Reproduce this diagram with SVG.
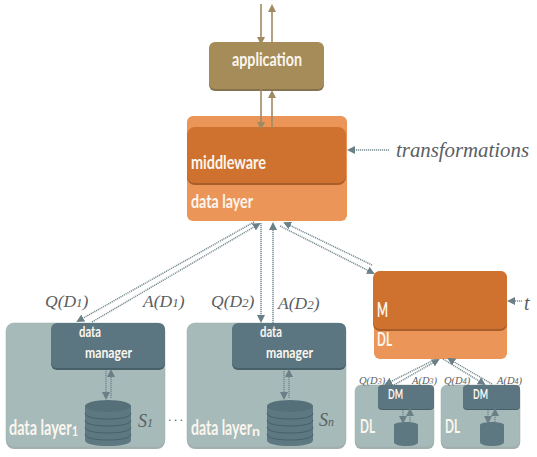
<svg xmlns="http://www.w3.org/2000/svg" width="537" height="457" viewBox="0 0 537 457">
<defs>
<marker id="ab" viewBox="0 0 8 8" refX="6" refY="4" markerWidth="8" markerHeight="8" markerUnits="userSpaceOnUse" orient="auto"><path d="M0 0L8 4L0 8Z" fill="#a08a62"/></marker>
<marker id="as" viewBox="0 0 8 8" refX="6" refY="4" markerWidth="8" markerHeight="8" markerUnits="userSpaceOnUse" orient="auto"><path d="M0 0L8 4L0 8Z" fill="#6b7f86"/></marker>
<g id="cyl"><path d="M0 6V40C0 44 10 46 23 46S46 44 46 40V6Z" fill="#5d7881"/><ellipse cx="23" cy="6" rx="23" ry="6" fill="#557079"/><path d="M0 13C0 17 10 19 23 19S46 17 46 13M0 20C0 24 10 26 23 26S46 24 46 20M0 27C0 31 10 33 23 33S46 31 46 27M0 34C0 38 10 40 23 40S46 38 46 34" fill="none" stroke="#3f5a63" stroke-width="0.8"/></g>
<path id="cyls" d="M0 3V20C0 22.500 5 24 12 24S24 22.500 24 20V3C24 1 18 0 12 0S0 1 0 3Z" fill="#5d7881"/>
</defs>
<style>
.l{font-family:"Lato","Open Sans",sans-serif;font-weight:700;fill:#fbf6ee}
.m{font-family:"Liberation Serif","DejaVu Serif",serif;font-style:italic;fill:#5a5e62}
.tan{stroke:#a08a62;stroke-width:1.6;fill:none}
.sl{stroke:#7a8d93;stroke-width:1.5;stroke-dasharray:1.2 0.8;fill:none}
.pan{fill:#a6bab9;stroke:#98acab;stroke-width:0.5}
.dm{fill:#5b7680}
.shadow{fill:#7d8e8e;opacity:.7}
</style>
<rect width="537" height="457" fill="#fff"/>
<g id="application"><rect x="209" y="44" width="115" height="47" rx="6" fill="#857350"/><rect x="209" y="42" width="115" height="47" rx="6" fill="#a68c58"/><text class="l" x="232" y="66" font-size="19" textLength="70" lengthAdjust="spacingAndGlyphs">application</text></g>
<g id="data-layer"><rect x="187" y="116" width="160" height="105" rx="6" fill="#ec9558"/><rect x="187" y="129" width="159" height="56" rx="8" fill="#a85d2a"/><rect x="187" y="127" width="159" height="56" rx="8" fill="#d0722f"/><text class="l" x="191" y="169" font-size="18" textLength="75" lengthAdjust="spacingAndGlyphs">middleware</text><text class="l" x="191" y="208" font-size="18" textLength="62" lengthAdjust="spacingAndGlyphs">data layer</text></g>
<g id="transformations"><text class="m" x="396" y="157" font-size="20" textLength="133" lengthAdjust="spacingAndGlyphs">transformations</text></g>
<g id="layer-1"><rect x="6" y="325" width="159" height="124" rx="8" class="shadow"/><rect x="6" y="323" width="159" height="124" rx="8" class="pan"/><rect x="51" y="325" width="114" height="45" rx="6" fill="#486169"/><rect x="51" y="323" width="114" height="45" rx="6" class="dm"/><text class="l" x="79" y="337" font-size="15" textLength="22" lengthAdjust="spacingAndGlyphs">data</text><text class="l" x="85" y="358" font-size="16" textLength="47" lengthAdjust="spacingAndGlyphs">manager</text><use href="#cyl" x="85" y="400"/><text class="l" transform="translate(9 435) scale(.72 1)" font-size="20">data layer</text><text class="l" x="72" y="436" font-size="13" textLength="6" lengthAdjust="spacingAndGlyphs">1</text><text class="m" x="138" y="427" font-size="18">S</text><text class="m" x="147" y="427" font-size="12">1</text></g>
<g id="ellipsis"><text x="168" y="421" font-family="Liberation Sans,sans-serif" font-size="13" fill="#55595b" textLength="15">...</text></g>
<g id="layer-n"><rect x="187" y="325" width="159" height="124" rx="8" class="shadow"/><rect x="187" y="323" width="159" height="124" rx="8" class="pan"/><rect x="232" y="325" width="114" height="45" rx="6" fill="#486169"/><rect x="232" y="323" width="114" height="45" rx="6" class="dm"/><text class="l" x="260" y="337" font-size="15" textLength="22" lengthAdjust="spacingAndGlyphs">data</text><text class="l" x="266" y="358" font-size="16" textLength="47" lengthAdjust="spacingAndGlyphs">manager</text><use href="#cyl" x="267" y="400"/><text class="l" transform="translate(191 435) scale(.70 1)" font-size="20">data layer</text><text class="l" x="252" y="436" font-size="13" textLength="8" lengthAdjust="spacingAndGlyphs">n</text><text class="m" x="319" y="426" font-size="18">S</text><text class="m" x="328" y="426" font-size="12">n</text></g>
<g id="middleware-small"><rect x="374" y="271" width="133" height="88" rx="6" fill="#ec9558"/><rect x="373" y="273" width="134" height="58" rx="7" fill="#a85d2a"/><rect x="373" y="271" width="134" height="58" rx="7" fill="#d0722f"/><text class="l" x="377" y="317" font-size="20" textLength="11" lengthAdjust="spacingAndGlyphs">M</text><text class="l" x="377" y="346" font-size="19" textLength="15" lengthAdjust="spacingAndGlyphs">DL</text></g>
<g id="t"><text class="m" x="524" y="310" font-size="20">t</text></g>
<g id="small-1"><rect x="355" y="387" width="79" height="62" rx="6" class="shadow"/><rect x="355" y="385" width="79" height="62" rx="6" class="pan"/><rect x="378" y="386" width="56" height="24" rx="4" fill="#486169"/><rect x="378" y="385" width="56" height="24" rx="4" class="dm"/><text class="l" x="388" y="399" font-size="14" textLength="15" lengthAdjust="spacingAndGlyphs">DM</text><text class="l" x="360" y="433" font-size="19" textLength="15" lengthAdjust="spacingAndGlyphs">DL</text><use href="#cyls" x="394" y="422"/></g>
<g id="small-2"><rect x="441" y="387" width="79" height="62" rx="6" class="shadow"/><rect x="441" y="385" width="79" height="62" rx="6" class="pan"/><rect x="463" y="386" width="57" height="24" rx="4" fill="#486169"/><rect x="463" y="385" width="57" height="24" rx="4" class="dm"/><text class="l" x="473" y="399" font-size="14" textLength="15" lengthAdjust="spacingAndGlyphs">DM</text><text class="l" x="445" y="433" font-size="19" textLength="15" lengthAdjust="spacingAndGlyphs">DL</text><use href="#cyls" x="480" y="422"/></g>
<g id="labels"><text class="m" x="45" y="307" font-size="17.500">Q(D<tspan font-size="13">1</tspan>)</text><text class="m" x="143" y="307" font-size="17.500">A(D<tspan font-size="13">1</tspan>)</text><text class="m" x="211" y="307" font-size="17.500">Q(D<tspan font-size="13">2</tspan>)</text><text class="m" x="278" y="309" font-size="17.500">A(D<tspan font-size="13">2</tspan>)</text><text class="m" x="359" y="384" font-size="10.500">Q(D<tspan font-size="8">3</tspan>)</text><text class="m" x="412" y="384" font-size="10.500">A(D<tspan font-size="8">3</tspan>)</text><text class="m" x="444" y="384" font-size="10.500">Q(D<tspan font-size="8">4</tspan>)</text><text class="m" x="497" y="384" font-size="10.500">A(D<tspan font-size="8">4</tspan>)</text></g>
<g id="connectors">
<path class="tan" d="M261 4V43" marker-end="url(#ab)"/><path class="tan" d="M272 42V6" marker-end="url(#ab)"/>
<path class="tan" d="M261 88V128" marker-end="url(#ab)"/><path class="tan" d="M272 128V92" marker-end="url(#ab)"/>
<path class="sl" d="M389 150H349" marker-end="url(#as)"/><path class="sl" d="M522 301H509" marker-end="url(#as)"/>
<path class="sl" d="M254 222L78 321" marker-end="url(#as)"/><path class="sl" d="M92 322L259 224" marker-end="url(#as)"/>
<path class="sl" d="M261 223V321" marker-end="url(#as)"/><path class="sl" d="M273 323V224" marker-end="url(#as)"/>
<path class="sl" d="M372 265L285 223" marker-end="url(#as)"/><path class="sl" d="M280 226L373 273" marker-end="url(#as)"/>
<path class="sl" d="M106 371V398" marker-end="url(#as)"/><path class="sl" d="M111 398V371" marker-end="url(#as)"/>
<path class="sl" d="M284 371V398" marker-end="url(#as)"/><path class="sl" d="M289 398V371" marker-end="url(#as)"/>
<path class="sl" d="M394 385L438 360" marker-end="url(#as)"/><path class="sl" d="M436 359L386 384" marker-end="url(#as)"/>
<path class="sl" d="M492 384L449 359" marker-end="url(#as)"/><path class="sl" d="M443 359L484 384" marker-end="url(#as)"/>
<path class="sl" d="M403 410V422" marker-end="url(#as)"/><path class="sl" d="M410 422V410" marker-end="url(#as)"/>
<path class="sl" d="M488 410V422" marker-end="url(#as)"/><path class="sl" d="M495 422V410" marker-end="url(#as)"/>
</g>
</svg>
